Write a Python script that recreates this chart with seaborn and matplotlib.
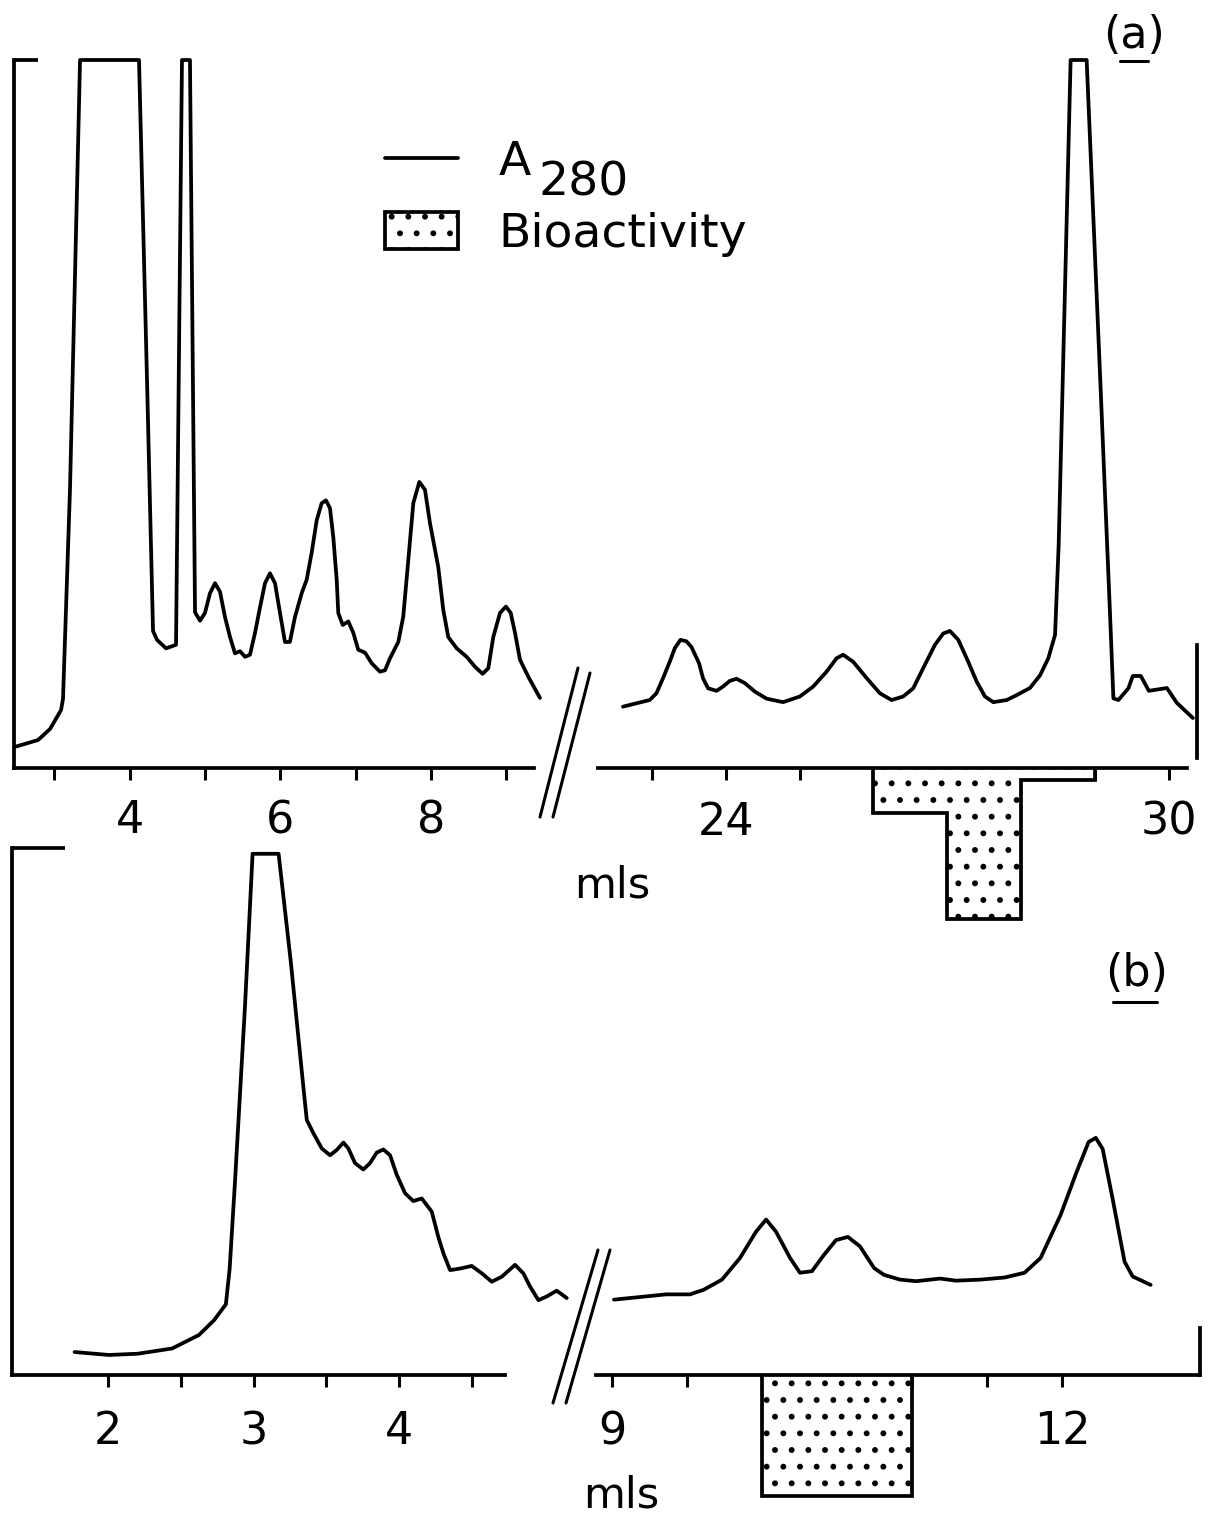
import numpy as np
import pandas as pd
import matplotlib
matplotlib.use("Agg")
import matplotlib.pyplot as plt
import seaborn as sns
from matplotlib.lines import Line2D
from matplotlib.patches import Patch

# ---------------- data ----------------
# Panel (a), first segment of the elution (mls) and A280 (relative units, 100 = full scale)
a1_ml = [2.475, 2.787, 2.946, 3.092, 3.118, 3.211, 3.344, 4.126, 4.232, 4.312, 4.365, 4.484,
         4.617, 4.696, 4.802,
         4.869, 4.935, 5.001, 5.068, 5.134, 5.200, 5.267, 5.333, 5.399, 5.466, 5.532, 5.598,
         5.665, 5.731, 5.797, 5.863, 5.930, 5.996, 6.062, 6.127, 6.194, 6.284, 6.350, 6.416,
         6.483, 6.549, 6.606, 6.659, 6.703, 6.748, 6.769, 6.828, 6.902, 6.968, 7.034, 7.123,
         7.212, 7.322, 7.389, 7.455, 7.565, 7.631, 7.698, 7.764, 7.844, 7.919, 7.985, 8.095,
         8.162, 8.228, 8.340, 8.472, 8.582, 8.684, 8.759, 8.825, 8.914, 8.993, 9.056, 9.113,
         9.179, 9.289, 9.444]
a1_a280 = [2.97, 3.95, 5.51, 8.19, 9.75, 39.5, 100, 100, 54.9, 19.35, 18.1, 16.9,
           17.4, 100, 100,
           22.0, 20.8, 21.9, 24.7, 26.1, 24.9, 21.3, 18.5, 16.2, 16.5, 15.7, 16.0,
           19.1, 22.7, 26.1, 27.5, 26.1, 21.9, 17.8, 17.8, 21.3, 24.7, 26.6, 30.4,
           35.0, 37.4, 37.8, 36.7, 32.6, 26.6, 21.9, 20.2, 20.7, 19.1, 16.7, 16.3,
           14.8, 13.6, 13.8, 15.5, 17.8, 21.4, 29.4, 37.4, 40.4, 39.3, 34.6, 28.4,
           22.3, 18.5, 16.9, 15.7, 14.3, 13.3, 14.1, 18.5, 21.9, 22.8, 21.9, 19.1,
           15.3, 12.9, 9.9]

# Panel (a), second segment
a2_ml = [22.608, 22.790, 22.970, 23.061, 23.150, 23.241, 23.309, 23.386, 23.467, 23.535,
         23.638, 23.692, 23.760, 23.874, 23.963, 24.054, 24.145, 24.257, 24.393, 24.551,
         24.776, 25.003, 25.183, 25.364, 25.500, 25.589, 25.725, 25.907, 26.087, 26.245,
         26.402, 26.538, 26.673, 26.832, 26.944, 27.035, 27.148, 27.283, 27.397, 27.509,
         27.622, 27.804, 27.939, 28.119, 28.255, 28.367, 28.458, 28.507, 28.588, 28.669,
         28.886, 29.061, 29.203, 29.248, 29.316, 29.451, 29.511, 29.619, 29.728, 29.972,
         30.107, 30.324]
a2_a280 = [8.66, 9.14, 9.6, 10.55, 12.67, 15.0, 16.9, 18.1, 17.9, 17.1,
           14.8, 12.67, 11.26, 10.9, 11.5, 12.3, 12.6, 12.0, 10.8, 9.8,
           9.3, 10.1, 11.5, 13.6, 15.5, 16.0, 15.0, 12.7, 10.55, 9.6,
           10.1, 11.26, 14.1, 17.4, 19.0, 19.35, 18.1, 15.0, 12.2, 10.1,
           9.3, 9.6, 10.3, 11.3, 13.1, 15.5, 18.8, 31.5, 65.7, 100,
           100, 57.1, 21.6, 9.84, 9.6, 11.26, 13.0, 13.0, 10.9, 11.3,
           9.2, 7.06]

# Panel (a) bioactivity per 1 ml fraction
bio_a_edges = [26, 27, 28, 29]
bio_a_values = [6.4, 21.3, 1.7]

# Panel (b), first segment
b1_ml = [1.768, 2.005, 2.203, 2.439, 2.624, 2.728, 2.809, 2.835, 2.872, 2.941, 2.993,
         3.172, 3.256, 3.347,
         3.366, 3.411, 3.469, 3.526, 3.572, 3.618, 3.652, 3.698, 3.755, 3.801, 3.847,
         3.893, 3.939, 3.985, 4.042, 4.099, 4.157, 4.226, 4.271, 4.306, 4.352, 4.421,
         4.501, 4.570, 4.639, 4.708, 4.799, 4.856, 4.902, 4.960, 5.017, 5.086, 5.155]
b1_a280 = [4.36, 3.80, 4.04, 5.03, 7.59, 10.4, 13.4, 20.1, 36.7, 70.1, 98.9,
           98.9, 78.4, 53.4,
           48.4, 45.9, 43.0, 41.7, 42.7, 44.1, 43.0, 40.2, 39.0, 40.2, 42.2,
           42.8, 41.7, 38.0, 34.5, 33.0, 33.5, 31.0, 26.2, 23.1, 19.9, 20.2,
           20.7, 19.3, 17.7, 18.65, 20.9, 19.3, 16.8, 14.2, 14.9, 16.0, 14.6]

# Panel (b), second segment
b2_ml = [9.013, 9.187, 9.360, 9.520, 9.613, 9.733, 9.853, 9.960, 10.027, 10.093, 10.187,
         10.253, 10.333, 10.413, 10.493, 10.573, 10.653, 10.747, 10.813, 10.920, 11.027,
         11.187, 11.293, 11.457, 11.617, 11.750, 11.857, 11.991, 12.097, 12.177, 12.225,
         12.271, 12.337, 12.417, 12.471, 12.591]
b2_a280 = [14.3, 14.8, 15.3, 15.3, 16.2, 18.1, 22.2, 27.2, 29.5, 27.2, 22.2,
           19.4, 19.7, 22.8, 25.6, 26.2, 24.4, 20.3, 19.0, 18.1, 17.8,
           18.3, 17.9, 18.1, 18.5, 19.4, 22.2, 30.4, 38.5, 44.2, 45.0,
           42.9, 33.5, 21.5, 18.7, 17.1]

bio_b_edges = [10, 11]
bio_b_values = [23.0]

# tick positions / labels
a1_ticks = [3, 4, 5, 6, 7, 8, 9]
a1_labels = ["", "4", "", "6", "", "8", ""]
a2_ticks = [23, 24, 25, 26, 27, 28, 29, 30]
a2_labels = ["", "24", "", "", "", "", "", "30"]
b1_ticks = [2, 2.5, 3, 3.5, 4, 4.5]
b1_labels = ["2", "", "3", "", "4", ""]
b2_ticks = [9, 9.5, 10, 10.5, 11, 11.5, 12]
b2_labels = ["9", "", "", "", "", "", "12"]

legend_labels = ["A", "Bioactivity"]
legend_sub = "280"
xlabel = "mls"

# ---------------- figure ----------------
W, H = 1208, 1519
sns.set_theme(style="ticks", rc={
    "axes.edgecolor": "black", "xtick.color": "black", "ytick.color": "black",
    "text.color": "black", "axes.labelcolor": "black", "hatch.linewidth": 1.8,
})
plt.rcParams["font.family"] = ["DejaVu Sans"]

fig = plt.figure(figsize=(W / 100, H / 100), dpi=100)
fig.patch.set_facecolor("white")


def box(l, t, r, b):
    return [l / W, 1 - b / H, (r - l) / W, (b - t) / H]


LW = 2.7
ax_a1 = fig.add_axes(box(14, 60, 534, 768))
ax_a2 = fig.add_axes(box(598, 60, 1197, 768))
ax_b1 = fig.add_axes(box(11.5, 848, 505, 1375))
ax_b2 = fig.add_axes(box(596, 848, 1200, 1375))

panels = [
    (ax_a1, a1_ml, a1_a280, (2.468, 9.365), a1_ticks, a1_labels, 14),
    (ax_a2, a2_ml, a2_a280, (22.27, 30.38), a2_ticks, a2_labels, 15),
    (ax_b1, b1_ml, b1_a280, (1.334, 4.730), b1_ticks, b1_labels, 17),
    (ax_b2, b2_ml, b2_a280, (8.893, 12.92), b2_ticks, b2_labels, 17),
]

for ax, xs, ys, xl, tk, tl, pad in panels:
    ax.set_facecolor("none")
    df = pd.DataFrame({"ml": xs, "A280": ys})
    sns.lineplot(data=df, x="ml", y="A280", ax=ax, color="black", linewidth=LW,
                 sort=False, estimator=None, legend=False)
    ln = ax.lines[-1]
    ln.set_clip_on(False)
    ln.set_solid_joinstyle("round")
    ln.set_solid_capstyle("round")
    ax.set_xlim(*xl)
    ax.set_ylim(0, 100)
    ax.set_xlabel("")
    ax.set_ylabel("")
    ax.set_xticks(tk)
    ax.set_xticklabels(tl)
    ax.tick_params(axis="x", direction="out", length=8.5, width=2.2,
                   labelsize=32, pad=pad)
    for s in ax.spines.values():
        s.set_linewidth(LW)
        s.set_color("black")
    ax.spines["top"].set_visible(False)

# left panels: full-height left axis with a top bracket tick
for ax, blen in [(ax_a1, 17), (ax_b1, 38)]:
    ax.spines["right"].set_visible(False)
    ax.set_yticks([100])
    ax.set_yticklabels([])
    ax.tick_params(axis="y", direction="in", length=blen, width=LW, left=True)

# right panels: short right axis stub
ax_a2.spines["left"].set_visible(False)
ax_a2.spines["right"].set_bounds(1.4, 17.4)
ax_a2.spines["bottom"].set_bounds(22.27, 30.25)
ax_a2.set_yticks([])
ax_b2.spines["left"].set_visible(False)
ax_b2.spines["right"].set_bounds(0, 8.9)
ax_b2.set_yticks([])

# bioactivity, hanging below the baseline
for ax, edges, vals in [(ax_a2, bio_a_edges, bio_a_values), (ax_b2, bio_b_edges, bio_b_values)]:
    st = ax.stairs(-np.array(vals), edges, baseline=0, fill=True, facecolor="white",
                   edgecolor="black", hatch=".", linewidth=LW, zorder=2)
    st.set_clip_on(False)

# legend
handles = [Line2D([], [], color="black", linewidth=LW),
           Patch(facecolor="white", edgecolor="black", hatch=".", linewidth=LW)]
leg = fig.legend(handles, legend_labels, loc="upper left",
                 bbox_to_anchor=(385 / W, 1 - 140 / H), frameon=False, fontsize=34,
                 handlelength=1.55, handleheight=0.85, handletextpad=0.85,
                 labelspacing=0.56, borderpad=0, borderaxespad=0)

fig.canvas.draw()
renderer = fig.canvas.get_renderer()
bbA = leg.get_texts()[0].get_window_extent(renderer)
fig.text((bbA.x1 + 8) / W, (bbA.y0 - 20) / H, legend_sub, fontsize=34,
         ha="left", va="bottom")

# axis titles
fig.text(612 / W, 1 - 897 / H, xlabel, fontsize=31, ha="center", va="baseline")
fig.text(621 / W, 1 - 1507 / H, xlabel, fontsize=31, ha="center", va="baseline")

# panel labels with underlined letter
fig.text(1134 / W, 1 - 35 / H, "(a)", fontsize=32, ha="center", va="center")
fig.text(1137 / W, 1 - 973 / H, "(b)", fontsize=32, ha="center", va="center")


def fline(x1, y1, x2, y2, lw=2.2):
    fig.add_artist(Line2D([x1 / W, x2 / W], [1 - y1 / H, 1 - y2 / H],
                          transform=fig.transFigure, color="black", linewidth=lw))


fline(1120, 61, 1148, 61)
fline(1113, 1002, 1157, 1002)

# axis break marks
fline(540, 817, 578, 668)
fline(553, 817, 590, 673)
fline(553, 1403, 598, 1250)
fline(566, 1403, 610, 1250)

fig.savefig("out.png", dpi=100, facecolor="white")
